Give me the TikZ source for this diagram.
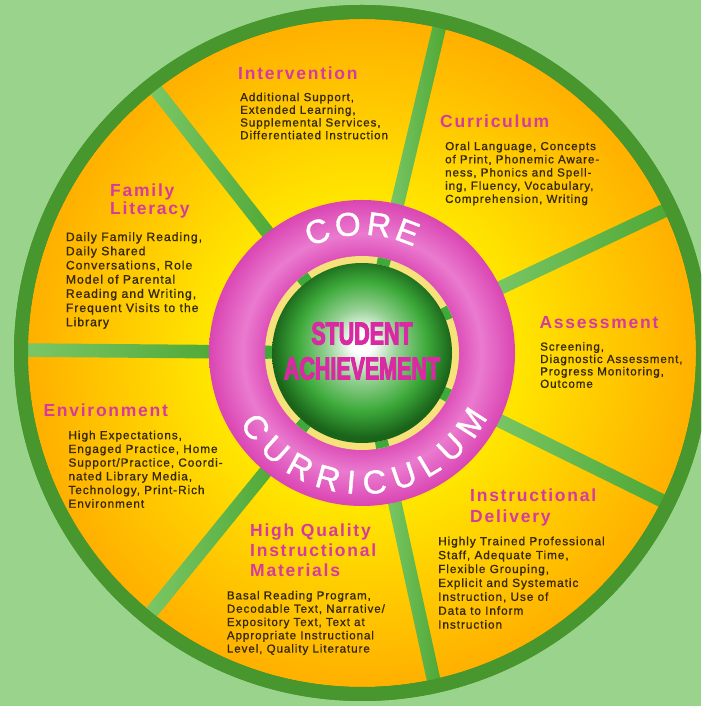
\documentclass[tikz,border=0pt]{standalone}
\usepackage{fontspec}
\setmainfont{Liberation Sans}
\newfontfamily\headfont[LetterSpace=10]{Liberation Sans}
\newfontfamily\bodyfont[LetterSpace=8, FakeBold=1]{Liberation Sans}
\newfontfamily\ringfont[FakeBold=1.2]{Liberation Sans}
\newfontfamily\hubfont[FakeStretch=0.67, FakeBold=3]{Liberation Sans}
\usetikzlibrary{calc, decorations.text, positioning}

\definecolor{meadow}{HTML}{9AD38B}
\definecolor{rimgreen}{HTML}{47962E}
\definecolor{spokein}{HTML}{7BC766}
\definecolor{spokeout}{HTML}{4EA835}
\definecolor{sunyellow}{HTML}{FFE800}
\definecolor{sunorange}{HTML}{FFB000}
\definecolor{ringpink}{HTML}{EE88D6}
\definecolor{ringmagenta}{HTML}{DA45B3}
\definecolor{paleyellow}{HTML}{F7E27A}
\definecolor{ballgreen}{HTML}{3DAA3A}
\definecolor{balldark}{HTML}{1A641A}
\definecolor{headpink}{HTML}{D63AA0}
\definecolor{bodybrown}{HTML}{35290A}
\definecolor{hubmagenta}{HTML}{D92AA4}

\pgfdeclareradialshading{wheelshade}{\pgfpointorigin}{color(0bp)=(sunyellow); color(11bp)=(sunyellow); color(17bp)=(sunyellow!55!sunorange); color(25bp)=(sunorange); color(50bp)=(sunorange)}
\pgfdeclareradialshading{ringshade}{\pgfpointorigin}{color(0bp)=(ringmagenta); color(15.8bp)=(ringmagenta!85!ringpink); color(19.5bp)=(ringpink!80!ringmagenta); color(25bp)=(ringmagenta); color(50bp)=(ringmagenta)}
\pgfdeclareradialshading{ballshade}{\pgfpoint{0bp}{3bp}}{color(0bp)=(white); color(3bp)=(white); color(10bp)=(ballgreen!55!white); color(18bp)=(ballgreen); color(25bp)=(balldark); color(50bp)=(balldark)}

\begin{document}
\begin{tikzpicture}[x=1pt, y=1pt,
  every node/.style={inner sep=0pt, anchor=north west, align=left},
  heading/.style={text=headpink, font=\headfont\bfseries\fontsize{17.5}{#1}\selectfont},
  heading/.default=20,
  blurb/.style 2 args={text=bodybrown, font=\bodyfont\fontsize{#1}{#2}\selectfont},
  spoke/.style={left color=spokein, right color=spokeout},
  notch/.style={draw=ballgreen, line width=7pt}]
\useasboundingbox (0,0) rectangle (701,706);
\clip (0,0) rectangle (701,706);
\fill[meadow] (0,0) rectangle (701,706);
\coordinate (hub) at (362,353);

\begin{scope}[shift={(hub)}]
\fill[rimgreen] (0,0) circle[radius=348];
\shade[shading=wheelshade] (0,0) circle[radius=334];
\foreach \k in {0,...,6}{
  \pgfmathsetmacro\ang{179.5+\k*360/7}
  \shade[spoke, rotate=\ang] (140,-6.8) rectangle (337,6.8);
}
\fill[rimgreen, even odd rule] (0,0) circle[radius=348] (0,0) circle[radius=334];
\shade[shading=ringshade] (0,0) circle[radius=153];
\fill[paleyellow] (0,0) circle[radius=97];
\foreach \k in {0,...,6}{
  \pgfmathsetmacro\ang{179.5+\k*360/7}
  \draw[notch] (\ang-4:93.5) arc[start angle=\ang-4, end angle=\ang+4, radius=93.5];
}
\shade[shading=ballshade] (0,0) circle[radius=90];
\path[decorate, decoration={text along path, text align=fit to path,
  text={|\ringfont\fontsize{33}{33}\selectfont\color{white}|CORE}}]
  (116:118) arc[start angle=116, end angle=64, radius=118];
\path[decorate, decoration={text along path, text align=fit to path,
  text={|\ringfont\fontsize{33}{33}\selectfont\color{white}|CURRICULUM}}]
  (210:141) arc[start angle=210, end angle=333, radius=141];
\node[anchor=center, align=center, text=hubmagenta,
  font=\hubfont\bfseries\fontsize{32}{35}\selectfont] (achievement) at (0,2) {STUDENT\\ACHIEVEMENT};
\end{scope}

\node[heading] (intervention) at (238,639.3) {Intervention};
\node[blurb={11.6}{12.7}] (interventiontext) at (240,613.5) {Additional Support,\\Extended Learning,\\Supplemental Services,\\Differentiated Instruction};

\node[heading] (curriculum) at (440,591.7) {Curriculum};
\node[blurb={11.6}{13.2}] (curriculumtext) at (445,564.5) {Oral Language, Concepts\\of Print, Phonemic Aware-\\ness, Phonics and Spell-\\ing, Fluency, Vocabulary,\\Comprehension, Writing};

\node[heading] (assessment) at (539.3,390) {Assessment};
\node[blurb={11.6}{12.4}] (assessmenttext) at (540,364) {Screening,\\Diagnostic Assessment,\\Progress Monitoring,\\Outcome};

\node[heading=21.7] (delivery) at (470,217.7) {Instructional\\Delivery};
\node[blurb={11.8}{13.9}] (deliverytext) at (438,169.5) {Highly Trained Professional\\Staff, Adequate Time,\\Flexible Grouping,\\Explicit and Systematic\\Instruction, Use of\\Data to Inform\\Instruction};

\node[heading=20] (materials) at (250,182.7) {High Quality\\Instructional\\Materials};
\node[blurb={11.6}{13.3}] (materialstext) at (226.7,115.2) {Basal Reading Program,\\Decodable Text, Narrative/\\Expository Text, Text at\\Appropriate Instructional\\Level, Quality Literature};

\node[heading] (environment) at (43.3,302.7) {Environment};
\node[blurb={11.8}{13.7}] (environmenttext) at (68.3,275.5) {High Expectations,\\Engaged Practice, Home\\Support/Practice, Coordi-\\nated Library Media,\\Technology, Print-Rich\\Environment};

\node[heading=18.5] (family) at (110,522.7) {Family\\Literacy};
\node[blurb={12.2}{14.2}] (familytext) at (65.7,474) {Daily Family Reading,\\Daily Shared\\Conversations, Role\\Model of Parental\\Reading and Writing,\\Frequent Visits to the\\Library};
\end{tikzpicture}
\end{document}
